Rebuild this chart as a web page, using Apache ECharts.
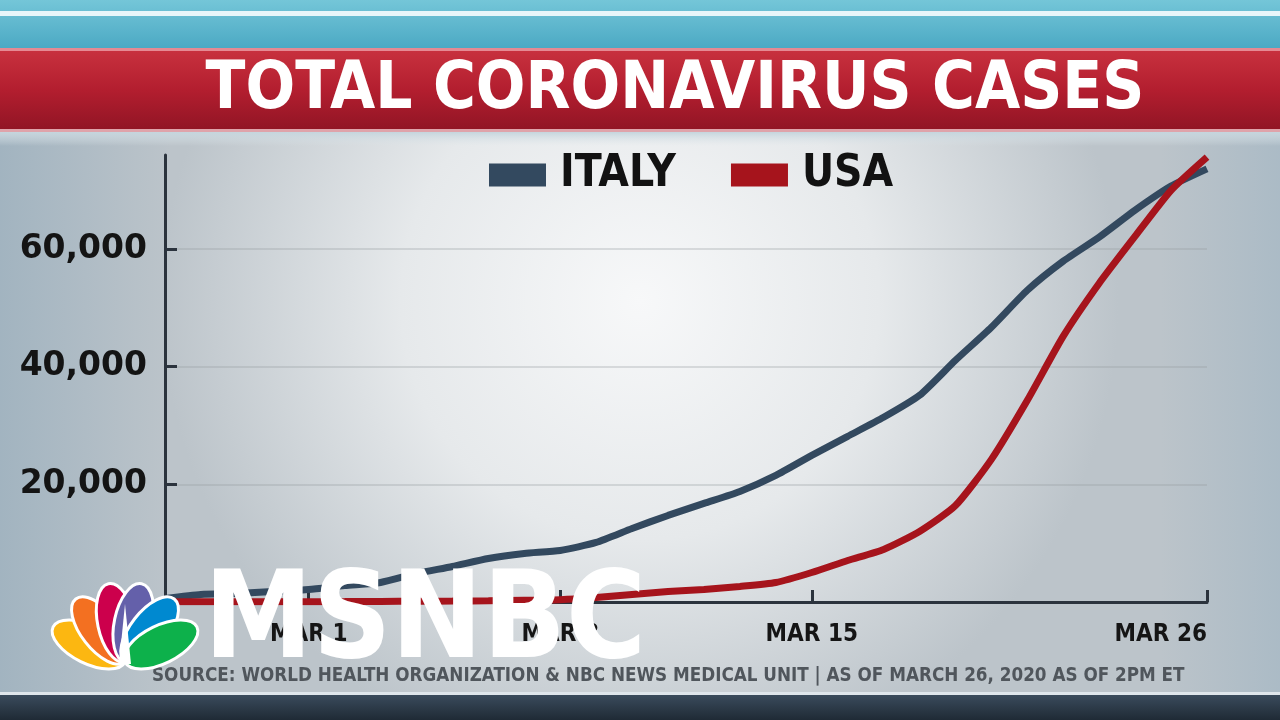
<!DOCTYPE html>
<html>
<head>
<meta charset="utf-8">
<script src="https://cdn.jsdelivr.net/npm/echarts@6/dist/echarts.min.js"></script>
<style>html,body{margin:0;padding:0;background:#222;}#c{width:1280px;height:720px;}</style>
</head>
<body>
<div id="c"></div>
<script>
// ---- data ----
const dates = ['FEB 26','FEB 27','FEB 28','FEB 29','MAR 1','MAR 2','MAR 3','MAR 4','MAR 5','MAR 6',
  'MAR 7','MAR 8','MAR 9','MAR 10','MAR 11','MAR 12','MAR 13','MAR 14','MAR 15','MAR 16',
  'MAR 17','MAR 18','MAR 19','MAR 20','MAR 21','MAR 22','MAR 23','MAR 24','MAR 25','MAR 26'];
const italy = [600,1280,1450,1790,2130,2800,3320,4850,6040,7400,
  8250,8770,10130,12500,14720,16770,18800,21530,24930,28170,
  31400,35140,41100,46720,53000,57950,62040,66630,70720,73650];
const usa = [60,60,60,62,62,64,100,120,150,210,
  300,400,770,1280,1790,2130,2640,3320,5020,7060,
  8940,12000,16400,24250,34300,45200,54200,62200,70000,75650];
const xTickLabels = ['MAR 1','MAR 8','MAR 15','MAR 26'];
const yTicks = { min: 0, max: 76000, interval: 20000 };
const titleText = 'TOTAL CORONAVIRUS CASES';
const sourceText = 'SOURCE: WORLD HEALTH ORGANIZATION & NBC NEWS MEDICAL UNIT | AS OF MARCH 26, 2020 AS OF 2PM ET';
const seriesNames = ['ITALY','USA'];
const colors = ['#33495f','#a6141c'];

const chart = echarts.init(document.getElementById('c'), null, {renderer:'canvas'});

// peacock petals (watermark)
const petalColors = ['#fcb711','#f37021','#cc004c','#6460aa','#0089d0','#0db14b'];
const petalAngles = [64,38,12,-12,-38,-64];
const petals = petalColors.map((c,i)=>({
  type:'ellipse', z:100, x:125, y:662,
  rotation: petalAngles[i]*Math.PI/180,
  shape:{cx:0, cy:-40, rx:19, ry:40},
  style:{fill:c, stroke:'#ffffff', lineWidth:3}
}));

const option = {
  backgroundColor: '#c3ccd2',
  animation: false,
  color: colors,
  grid: { left: 165, right: 73, top: 155, bottom: 118 },
  legend: {
    left: 484, top: 148,
    itemWidth: 57, itemHeight: 23, itemGap: 55,
    icon: 'rect',
    data: seriesNames,
    textStyle: { fontFamily: 'DejaVu Sans Condensed', fontWeight: 'bold', fontSize: 44, color: '#121212', padding: [0,0,0,9] }
  },
  xAxis: {
    type: 'category',
    data: dates,
    boundaryGap: false,
    axisLine: { lineStyle: { color: '#2b333d', width: 3 } },
    axisTick: { inside: true, length: 12, lineStyle: { color: '#2b333d', width: 3 },
      interval: (i, v) => xTickLabels.includes(v) },
    axisLabel: { interval: (i, v) => xTickLabels.includes(v), margin: 21,
      fontFamily: 'DejaVu Sans Condensed', fontWeight: 'bold', fontSize: 24, color: '#151515',
      alignMaxLabel: 'right' },
    splitLine: { show: false }
  },
  yAxis: {
    type: 'value',
    min: yTicks.min, max: yTicks.max, interval: yTicks.interval,
    axisLine: { show: true, lineStyle: { color: '#2b333d', width: 3 } },
    axisTick: { show: true, inside: true, length: 12, lineStyle: { color: '#2b333d', width: 3 } },
    axisLabel: { showMinLabel: false, showMaxLabel: false, margin: 18,
      fontFamily: 'DejaVu Sans', fontWeight: 'bold', fontSize: 33, color: '#141414',
      formatter: v => v.toLocaleString('en-US') },
    splitLine: { show: true, showMinLine: false, showMaxLine: false,
      lineStyle: { color: 'rgba(150,155,160,0.3)', width: 2 } }
  },
  series: [
    { name: seriesNames[0], type: 'line', data: italy, showSymbol: false, smooth: 0.2,
      lineStyle: { width: 7, color: colors[0] }, itemStyle: { color: colors[0] }, z: 3 },
    { name: seriesNames[1], type: 'line', data: usa, showSymbol: false, smooth: 0.2,
      lineStyle: { width: 7, color: colors[1] }, itemStyle: { color: colors[1] }, z: 4 }
  ],
  graphic: [
    // chart panel background
    { type:'rect', z:-20, silent:true, shape:{x:0,y:132,width:1280,height:563},
      style:{ fill: new echarts.graphic.RadialGradient(0.5,0.3,0.85,[
        {offset:0,color:'#f7f8f9'},{offset:0.5,color:'#e6e9eb'},{offset:1,color:'#bcc4ca'}]) } },
    { type:'rect', z:-19, silent:true, shape:{x:0,y:132,width:170,height:563},
      style:{ fill: new echarts.graphic.LinearGradient(0,0,1,0,[
        {offset:0,color:'rgba(130,160,180,0.45)'},{offset:1,color:'rgba(130,160,180,0)'}]) } },
    { type:'rect', z:-19, silent:true, shape:{x:1160,y:132,width:120,height:563},
      style:{ fill: new echarts.graphic.LinearGradient(0,0,1,0,[
        {offset:0,color:'rgba(140,170,190,0)'},{offset:1,color:'rgba(140,170,190,0.35)'}]) } },
    // top teal band
    { type:'rect', z:-18, silent:true, shape:{x:0,y:0,width:1280,height:50},
      style:{ fill: new echarts.graphic.LinearGradient(0,0,0,1,[
        {offset:0,color:'#74c6d8'},{offset:1,color:'#4aa8c3'}]) } },
    { type:'rect', z:-17, silent:true, shape:{x:0,y:11,width:1280,height:5}, style:{ fill:'#e8f6fa' } },
    // red banner
    { type:'rect', z:-16, silent:true, shape:{x:0,y:48,width:1280,height:84},
      style:{ fill: new echarts.graphic.LinearGradient(0,0,0,1,[
        {offset:0,color:'#c9323f'},{offset:0.5,color:'#b31e2f'},{offset:1,color:'#8f1424'}]) } },
    { type:'rect', z:-15, silent:true, shape:{x:0,y:48,width:1280,height:3}, style:{ fill:'#e58a93' } },
    { type:'rect', z:-15, silent:true, shape:{x:0,y:129,width:1280,height:3}, style:{ fill:'#dfa3aa' } },
    { type:'rect', z:-15, silent:true, shape:{x:0,y:132,width:1280,height:14},
      style:{ fill: new echarts.graphic.LinearGradient(0,0,0,1,[
        {offset:0,color:'#c5d5dd'},{offset:1,color:'rgba(220,228,232,0)'}]) } },
    // bottom dark strip
    { type:'rect', z:-15, silent:true, shape:{x:0,y:692,width:1280,height:3}, style:{ fill:'#dfe6eb' } },
    { type:'rect', z:-15, silent:true, shape:{x:0,y:695,width:1280,height:25},
      style:{ fill: new echarts.graphic.LinearGradient(0,0,0,1,[
        {offset:0,color:'#3a4b5c'},{offset:1,color:'#1f2a35'}]) } },
    // title
    { type:'text', z:10, silent:true, x:675, y:91,
      style:{ text:titleText, fill:'#ffffff', font:'bold 65px "DejaVu Sans Condensed"',
        textAlign:'center', textVerticalAlign:'middle',
        shadowColor:'rgba(0,0,0,0.35)', shadowBlur:3, shadowOffsetY:2 } },
    // source
    { type:'text', z:10, silent:true, x:152, y:676,
      style:{ text:sourceText, fill:'#50565c', font:'bold 18.7px "DejaVu Sans Condensed"',
        textAlign:'left', textVerticalAlign:'middle' } },
    // MSNBC watermark
    ...petals,
    { type:'polygon', z:101, shape:{points:[[119,664],[131,664],[125,604]]}, style:{fill:'#ffffff'} },
    { type:'text', z:100, silent:true, x:204, y:626, scaleX:0.975, scaleY:1.08, originX:0, originY:0,
      style:{ text:'MSNBC', fill:'#ffffff', font:'bold 112px "DejaVu Sans"',
        textAlign:'left', textVerticalAlign:'middle',
        shadowColor:'rgba(0,0,0,0.35)', shadowBlur:6 } }
  ]
};
chart.setOption(option);
</script>
</body>
</html>
